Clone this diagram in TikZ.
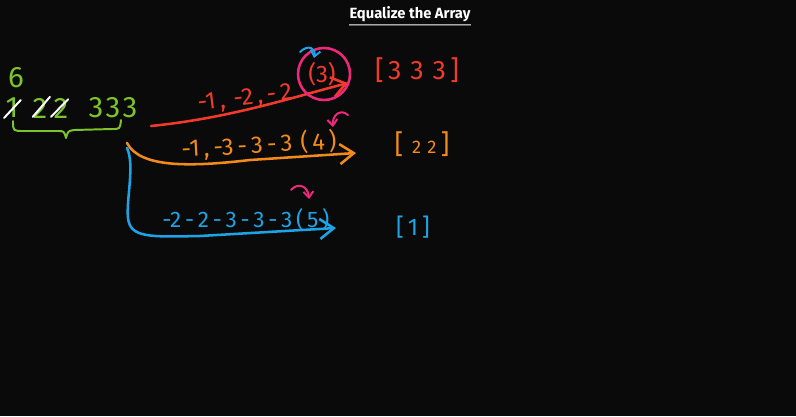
\documentclass[tikz,border=0pt]{standalone}
\usepackage{fontspec}
\setmainfont{Fira Sans}
\usetikzlibrary{arrows.meta}
\definecolor{board}{HTML}{0A0A0A}
\definecolor{chalkgreen}{HTML}{7CC42A}
\definecolor{chalkred}{HTML}{F23A2C}
\definecolor{chalkpink}{HTML}{F0287C}
\definecolor{chalkorange}{HTML}{F28A1C}
\definecolor{chalkblue}{HTML}{1EA4E6}

\begin{document}
\begin{tikzpicture}[
   x=0.025cm, y=-0.025cm,
   >={Straight Barb[length=3.5mm, width=5mm]},
   ink/.style={line width=1.8pt, line cap=round, line join=round},
   thin ink/.style={line width=1.4pt, line cap=round, line join=round},
   digit/.style={inner sep=0pt, font=\fontsize{21}{21}\selectfont\addfontfeatures{Numbers=Lining}, text=chalkgreen},
   steps/.style={inner sep=0pt, font=\fontsize{#1}{#1}\selectfont},
   bag/.style={inner sep=0pt, font=\fontsize{#1}{#1}\selectfont},
]
% ---- board ----
\fill[board] (0,0) rectangle (796,416);

% ---- title ----
\node[text=white, font=\bfseries\fontsize{10.5}{12}\selectfont, inner sep=0pt] (title) at (410,14) {Equalize the Array};
\draw[white, line width=0.8pt] (title.south west) ++(0,3) -- ([yshift=-0.075cm]title.south east);

% ---- the array ----
\node[digit] (six) at (16,78) {6};
\foreach \x [count=\i] in {12,40,61,96,113,130}
   \coordinate (c\i) at (\x,108);
\node[digit] (d1) at (c1) {1};
\node[digit] (d2) at (c2) {2};
\node[digit] (d3) at (c3) {2};
\node[digit] (d4) at (c4) {3};
\node[digit] (d5) at (c5) {3};
\node[digit] (d6) at (c6) {3};
% struck out
\draw[white, thin ink] ([xshift=-0.2cm,yshift=-0.25cm]d1.center) -- ([xshift=0.22cm,yshift=0.2cm]d1.center);
\draw[white, thin ink] ([xshift=-0.18cm,yshift=-0.22cm]d2.center) -- ([xshift=0.25cm,yshift=0.28cm]d2.center);
\draw[white, thin ink] ([xshift=-0.25cm,yshift=-0.22cm]d3.center) -- ([xshift=0.18cm,yshift=0.22cm]d3.center);
% brace
\draw[chalkgreen, thin ink] (13,121) .. controls (13,131) .. (24,131) -- (58,131)
   .. controls (64,131) .. (66,138) .. controls (68,131) .. (74,130) -- (112,129)
   .. controls (120,129) .. (121,120);

% ---- keep 3 ----
\coordinate (r0) at (151,126);
\coordinate (r1) at (348,83);
\draw[chalkred, ink, ->] (r0) .. controls (230,118) and (290,98) .. (r1);
\node[steps=17, text=chalkred, rotate=7] (rsteps) at (245,99) {-1\,,\,\,-2\,,\,-\,2};
\node[steps=17, text=chalkred] (rcount) at (322,74) {(3)};
\draw[chalkpink, ink] (rcount.center) ++(2,0) circle [x radius=26, y radius=26];
\node[bag=19, text=chalkred] (rbag) at (417,70) {[\,3\,\,3\,\,3\,]};

% ---- keep 2 ----
\coordinate (o0) at (127,143);
\coordinate (o1) at (356,153);
\draw[chalkorange, ink, ->] (o0) .. controls (140,168) and (190,167) .. (250,160) -- (o1);
\node[steps=17, text=chalkorange, rotate=3] (osteps) at (259,145) {-1\,,\,-3\,-\,3\,-\,3\,\,(\,4\,)};
\node[bag=19, text=chalkorange] (obag) at (422,144) {[\,\,{\fontsize{13}{13}\selectfont 2\,\,2}\,]};

% ---- keep 1 ----
\coordinate (b0) at (127,148);
\coordinate (b1) at (336,228);
\draw[chalkblue, ink, ->] (b0) .. controls (135,165) and (126,200) .. (128,218)
   .. controls (130,238) and (150,237) .. (200,236) -- (b1);
\node[steps=16, text=chalkblue] (bsteps) at (246,220) {-2\,-\,2\,-\,3\,-\,3\,-\,3\,(\,5\,)};
\node[bag=17, text=chalkblue] (bbag) at (413,227) {[\,1\,]};

% ---- little arrows ----
\draw[chalkblue, thin ink, -{Straight Barb[length=1.5mm, width=2.5mm]}] (300,52) .. controls (308,44) and (316,48) .. (314,58);
\draw[chalkpink, thin ink, -{Straight Barb[length=1.5mm, width=2.5mm]}] (348,115) .. controls (340,108) and (332,116) .. (333,127);
\draw[chalkpink, thin ink, -{Straight Barb[length=1.5mm, width=2.5mm]}] (291,190) .. controls (298,182) and (308,186) .. (309,199);
\end{tikzpicture}
\end{document}
